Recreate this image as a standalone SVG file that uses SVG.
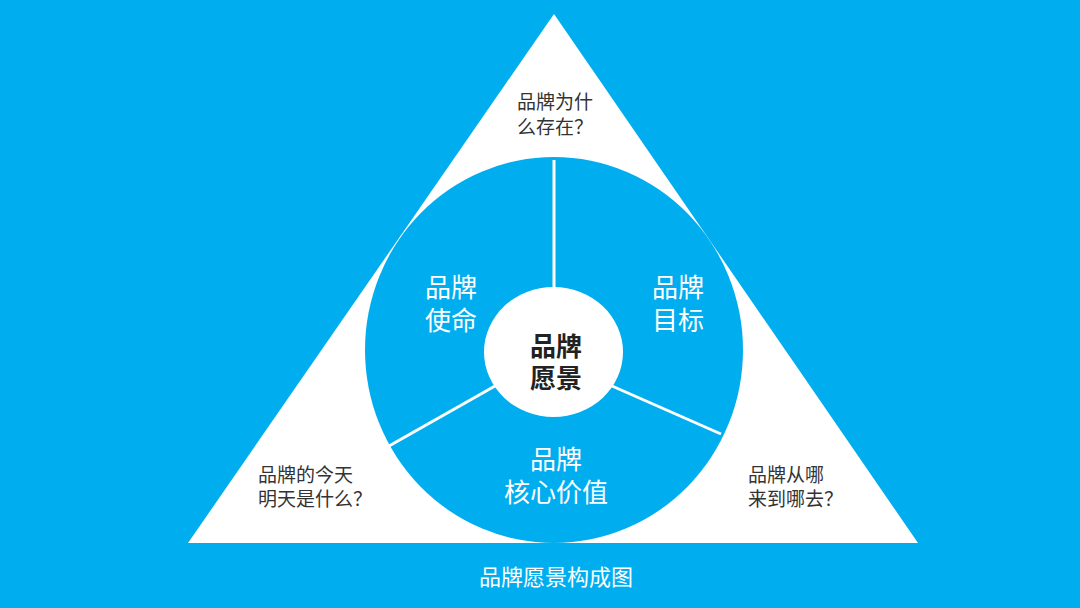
<svg xmlns="http://www.w3.org/2000/svg" width="1080" height="608" viewBox="0 0 1080 608">
<style>
text{font-family:"Liberation Sans","Noto Sans CJK SC",sans-serif}
.q{font-size:19px;fill:#333}
.w{font-size:26px;fill:#fff;text-anchor:middle}
.c{font-size:26px;fill:#222;font-weight:bold;text-anchor:middle}
.cap{font-size:22px;fill:#fff;text-anchor:middle}
.div{stroke:#fff;stroke-width:3;fill:none}
</style>
<rect width="1080" height="608" fill="#00AEEF"/>
<g id="triangle">
<polygon points="554,14 188,543 918,543" fill="#fff"/>
<text class="q" x="517" y="109">品牌为什</text>
<text class="q" x="517" y="134">么存在？</text>
<text class="q" x="258" y="482">品牌的今天</text>
<text class="q" x="258" y="506">明天是什么？</text>
<text class="q" x="748" y="482">品牌从哪</text>
<text class="q" x="748" y="506">来到哪去？</text>
</g>
<g id="ring">
<ellipse cx="554" cy="350" rx="189" ry="193" fill="#00AEEF"/>
</g>
<g id="connectors">
<line class="div" x1="554" y1="160" x2="554" y2="290"/>
<line class="div" x1="495" y1="386" x2="389" y2="446"/>
<line class="div" x1="612" y1="386" x2="721" y2="434"/>
</g>
<g id="mission">
<text class="w" x="451" y="297">品牌</text>
<text class="w" x="451" y="330">使命</text>
</g>
<g id="goal">
<text class="w" x="678" y="297">品牌</text>
<text class="w" x="678" y="330">目标</text>
</g>
<g id="values">
<text class="w" x="556" y="469">品牌</text>
<text class="w" x="556" y="502">核心价值</text>
</g>
<g id="vision">
<ellipse cx="553.5" cy="352" rx="69.5" ry="65" fill="#fff"/>
<text class="c" x="556" y="356">品牌</text>
<text class="c" x="556" y="388">愿景</text>
</g>
<g id="caption">
<text class="cap" x="556" y="585">品牌愿景构成图</text>
</g>
</svg>
